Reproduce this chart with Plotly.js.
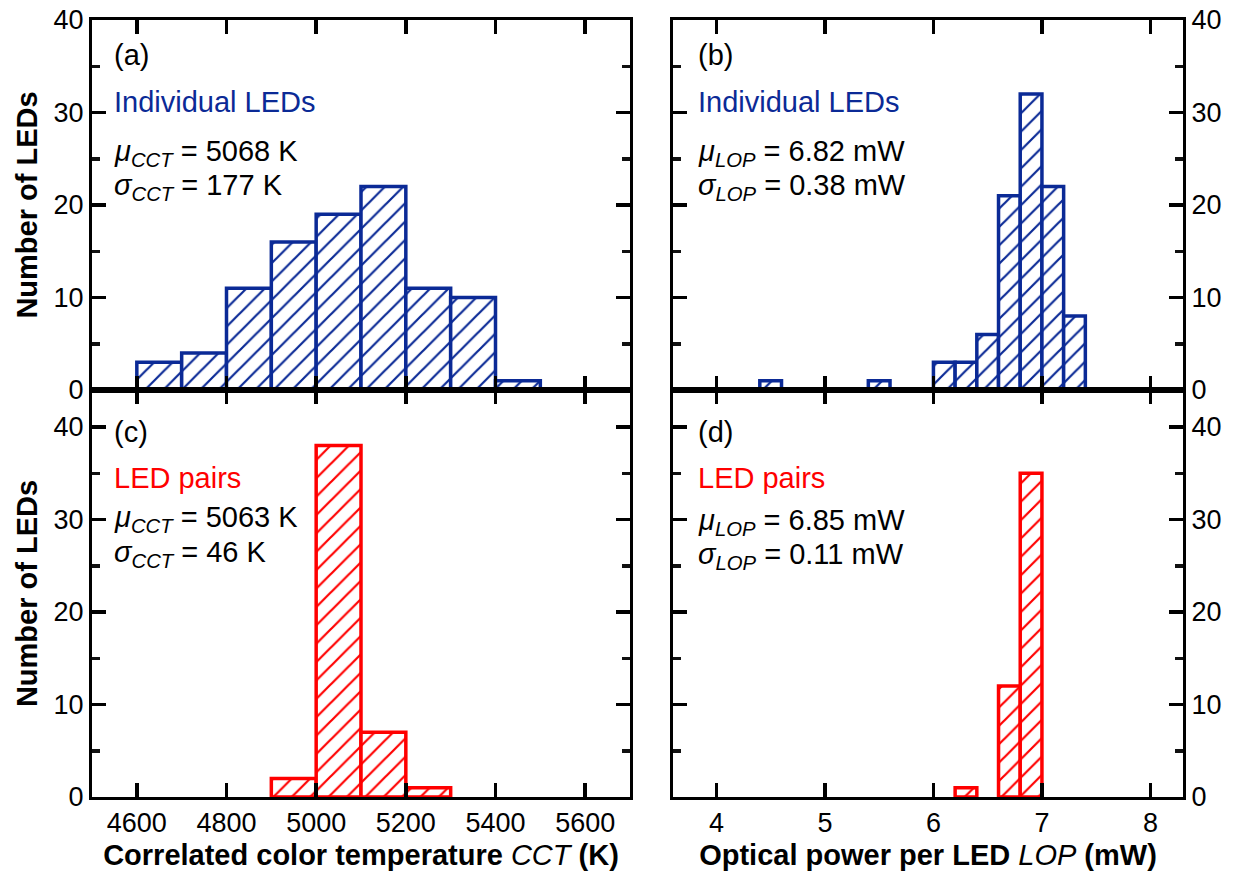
<!DOCTYPE html>
<html>
<head>
<meta charset="utf-8">
<script src="https://cdn.plot.ly/plotly-3.0.1.min.js"></script>
<style>html,body{margin:0;padding:0;background:#fff;}#chart{width:1234px;height:871px;}</style>
</head>
<body>
<div id="chart"></div>
<script>
// ---- data ----
const cctBinStart = [4600, 4700, 4800, 4900, 5000, 5100, 5200, 5300, 5400];
const cctCountsIndividual = [3, 4, 11, 16, 19, 22, 11, 10, 1];
const cctPairBinStart = [4900, 5000, 5100, 5200];
const cctCountsPairs = [2, 38, 7, 1];
const cctBinWidth = 100;

const lopBinStart = [4.4, 5.4, 6.0, 6.2, 6.4, 6.6, 6.8, 7.0, 7.2];
const lopCountsIndividual = [1, 1, 3, 3, 6, 21, 32, 22, 8];
const lopPairBinStart = [6.2, 6.6, 6.8];
const lopCountsPairs = [1, 12, 35];
const lopBinWidth = 0.2;

const panelLabels = ['(a)', '(b)', '(c)', '(d)'];
const groupLabels = ['Individual LEDs', 'Individual LEDs', 'LED pairs', 'LED pairs'];
const muTexts = ['<i>μ</i><sub><i>CCT</i></sub> = 5068 K', '<i>μ</i><sub><i>LOP</i></sub> = 6.82 mW',
                 '<i>μ</i><sub><i>CCT</i></sub> = 5063 K', '<i>μ</i><sub><i>LOP</i></sub> = 6.85 mW'];
const sigmaTexts = ['<i>σ</i><sub><i>CCT</i></sub> = 177 K', '<i>σ</i><sub><i>LOP</i></sub> = 0.38 mW',
                    '<i>σ</i><sub><i>CCT</i></sub> = 46 K', '<i>σ</i><sub><i>LOP</i></sub> = 0.11 mW'];

// ---- styling ----
const W = 1234, H = 871;
const BLUE = '#0b2a96', RED = '#ff0000';
const FONT = 'Liberation Sans, Arial, sans-serif';
const px = v => v / W;
const py = v => 1 - v / H;

function hist(xs, ys, w, color, xa, ya) {
  return {
    type: 'bar', x: xs, y: ys, width: w, offset: 0,
    xaxis: xa, yaxis: ya, showlegend: false, hoverinfo: 'x+y',
    marker: {
      color: 'white',
      line: {color: color, width: 3.5},
      pattern: {shape: '/', fgcolor: color, bgcolor: 'white', size: 13, solidity: 0.17}
    }
  };
}

const data = [
  hist(cctBinStart, cctCountsIndividual, cctBinWidth, BLUE, 'x', 'y'),
  hist(lopBinStart, lopCountsIndividual, lopBinWidth, BLUE, 'x2', 'y2'),
  hist(cctPairBinStart, cctCountsPairs, cctBinWidth, RED, 'x3', 'y3'),
  hist(lopPairBinStart, lopCountsPairs, lopBinWidth, RED, 'x4', 'y4')
];

const xL = [px(92), px(630)], xR = [px(673), px(1183)];
const yT = [py(390), py(20)], yB = [py(797), py(390)];

const axBase = {
  showline: true, linecolor: 'black', linewidth: 3, mirror: 'ticks',
  ticks: 'inside', ticklen: 14, tickwidth: 3.5, tickcolor: 'black',
  showgrid: false, zeroline: false,
  tickfont: {family: FONT, size: 27, color: 'black'}
};
const titleFont = {family: FONT, size: 29, color: 'black', weight: 'bold'};
const minorStyle = {ticks: 'inside', ticklen: 8, tickwidth: 3.5, tickcolor: '#111111'};

function cctAxis(dom, anchor, labels) {
  return Object.assign({}, axBase, {
    domain: dom, anchor: anchor, range: [4500, 5700], dtick: 200,
    showticklabels: labels
  });
}
function lopAxis(dom, anchor, labels) {
  return Object.assign({}, axBase, {
    domain: dom, anchor: anchor, range: [3.6, 8.3], dtick: 1,
    showticklabels: labels
  });
}
function cntAxis(dom, anchor, rangeMax, side) {
  return Object.assign({}, axBase, {
    domain: dom, anchor: anchor, range: [0, rangeMax], dtick: 10, side: side,
    minor: Object.assign({dtick: 5}, minorStyle)
  });
}

const layout = {
  width: W, height: H,
  margin: {l: 0, r: 0, t: 0, b: 0},
  paper_bgcolor: 'white', plot_bgcolor: 'white',
  font: {family: FONT, size: 27, color: 'black'},
  barmode: 'overlay',
  xaxis: cctAxis(xL, 'y', false),
  yaxis: Object.assign(cntAxis(yT, 'x', 40, 'left'), {
    title: {text: 'Number of LEDs', font: titleFont, standoff: 8}
  }),
  xaxis2: lopAxis(xR, 'y2', false),
  yaxis2: cntAxis(yT, 'x2', 40, 'right'),
  xaxis3: Object.assign(cctAxis(xL, 'y3', true), {
    title: {text: 'Correlated color temperature <span style="font-weight:normal"><i>CCT</i></span> (K)', font: titleFont, standoff: 14}
  }),
  yaxis3: Object.assign(cntAxis(yB, 'x3', 44, 'left'), {
    title: {text: 'Number of LEDs', font: titleFont, standoff: 8}
  }),
  xaxis4: Object.assign(lopAxis(xR, 'y4', true), {
    title: {text: 'Optical power per LED <span style="font-weight:normal"><i>LOP</i></span> (mW)', font: titleFont, standoff: 14}
  }),
  yaxis4: cntAxis(yB, 'x4', 44, 'right'),
  annotations: []
};

// annotation positions (pixels) for each panel
const annX = [112, 696, 112, 696];
const annY = [
  [55, 102, 153, 187],
  [55, 102, 153, 187],
  [432, 478, 519, 554],
  [432, 478, 522, 556]
];
const groupColors = [BLUE, BLUE, RED, RED];
for (let i = 0; i < 4; i++) {
  const texts = [panelLabels[i], groupLabels[i], muTexts[i], sigmaTexts[i]];
  const colors = ['black', groupColors[i], 'black', 'black'];
  for (let k = 0; k < 4; k++) {
    layout.annotations.push({
      xref: 'paper', yref: 'paper', x: px(annX[i]), y: py(annY[i][k]),
      xanchor: 'left', yanchor: 'middle', showarrow: false,
      text: texts[k], font: {family: FONT, size: 29, color: colors[k]}
    });
  }
}

Plotly.newPlot('chart', data, layout, {displayModeBar: false, staticPlot: true});
</script>
</body>
</html>
